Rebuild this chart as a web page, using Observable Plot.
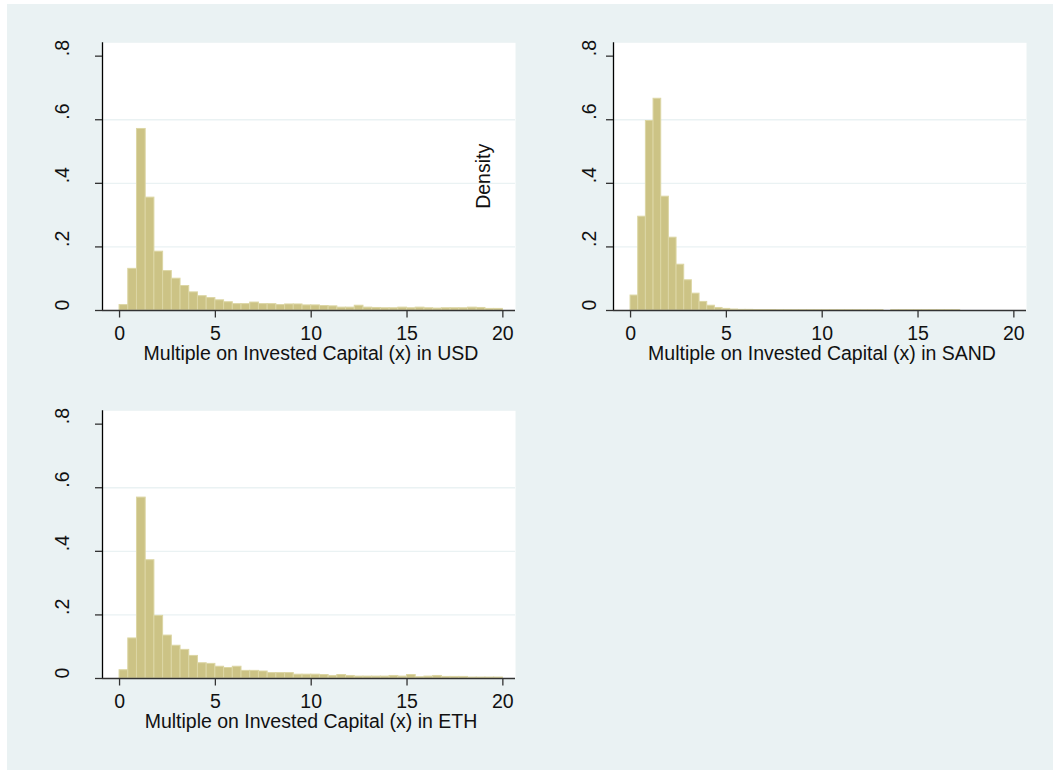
<!DOCTYPE html>
<html>
<head>
<meta charset="utf-8">
<script src="https://cdn.jsdelivr.net/npm/d3@7"></script>
<script src="https://cdn.jsdelivr.net/npm/@observablehq/plot@0.6"></script>
<style>
  html, body { margin: 0; padding: 0; background: #ffffff; }
  #page { position: relative; width: 1053px; height: 770px; background: #ffffff; overflow: hidden; font-family: "Liberation Sans", Arial, sans-serif; }
  #bg { position: absolute; left: 7px; top: 4px; right: 0; bottom: 0; background: #EAF2F3; }
  .panel { position: absolute; }
  .panel svg { overflow: visible; background: transparent; }
</style>
</head>
<body>
<div id="page">
  <div id="bg"></div>
  <div class="panel" id="p1" style="left:0px; top:0px;"></div>
  <div class="panel" id="p2" style="left:511px; top:0px;"></div>
  <div class="panel" id="p3" style="left:0px; top:367.7px;"></div>
</div>
<script>
// ---- Data (densities) ----
// USD: 44 bins spanning 0..20
const usdBinWidth = 20 / 44;
const usdDensity = [0.017, 0.131, 0.571, 0.355, 0.185, 0.124, 0.100, 0.077, 0.057, 0.045,
  0.039, 0.032, 0.026, 0.020, 0.020, 0.025, 0.020, 0.020, 0.017, 0.019,
  0.019, 0.016, 0.016, 0.014, 0.013, 0.009, 0.009, 0.015, 0.009, 0.008,
  0.007, 0.007, 0.009, 0.007, 0.009, 0.007, 0.006, 0.007, 0.007, 0.007,
  0.009, 0.008, 0.005, 0.005];

// SAND: 43 bins of width 0.4 spanning 0..17.2
const sandBinWidth = 0.4;
const sandDensity = [0.047, 0.295, 0.596, 0.666, 0.358, 0.229, 0.144, 0.095, 0.053, 0.027,
  0.015, 0.008, 0.005, 0.003, 0.002, 0.002, 0.0015, 0.0015, 0.0015, 0.001,
  0.001, 0.001, 0.001, 0.001, 0.001, 0.001, 0.001, 0.001, 0.001, 0.001,
  0.001, 0.001, 0.001, 0, 0.001, 0.001, 0.001, 0.001, 0.001, 0.001,
  0.001, 0.001, 0.001];

// ETH: 44 bins spanning 0..20
const ethBinWidth = 20 / 44;
const ethDensity = [0.026, 0.126, 0.569, 0.372, 0.197, 0.135, 0.103, 0.090, 0.071, 0.048,
  0.046, 0.037, 0.033, 0.037, 0.024, 0.024, 0.022, 0.017, 0.017, 0.017,
  0.012, 0.012, 0.012, 0.011, 0.008, 0.011, 0.008, 0.006, 0.006, 0.006,
  0.006, 0.008, 0.006, 0.011, 0.004, 0.006, 0.008, 0.005, 0.005, 0.005,
  0.003, 0.003, 0.003, 0.003];

const xTicks = [0, 5, 10, 15, 20];
const yTicks = [0, 0.2, 0.4, 0.6, 0.8];
const yTickLabels = ["0", ".2", ".4", ".6", ".8"];
const gridValues = [0.2, 0.4, 0.6];
const titles = [
  "Multiple on Invested Capital (x) in USD",
  "Multiple on Invested Capital (x) in SAND",
  "Multiple on Invested Capital (x) in ETH"
];
const yAxisTitle = "Density";

// ---- Styling ----
const barFill = "#CCC385";
const barStroke = "#DCD6A4";
const gridColor = "#EAF2F3";
const xDomain = [-0.89, 20.66];
const yDomain = [0, 0.842];

function bins(values, width) {
  return values.map((v, i) => ({x1: i * width, x2: (i + 1) * width, y: v}));
}

function panel(values, width, title, labelDx, extra = []) {
  return Plot.plot({
    width: 530,
    height: 380,
    marginLeft: 102,
    marginRight: 15,
    marginTop: 42.3,
    marginBottom: 70,
    x: {domain: xDomain, axis: null},
    y: {domain: yDomain, axis: null},
    style: {fontFamily: "'Liberation Sans', Arial, sans-serif", fontSize: "19.5px", color: "#111", background: "transparent", overflow: "visible"},
    marks: [
      Plot.frame({fill: "white", stroke: "none"}),
      Plot.ruleY(gridValues, {stroke: gridColor, strokeWidth: 1.4}),
      Plot.rectY(bins(values, width), {x1: "x1", x2: "x2", y: "y", fill: barFill, stroke: barStroke, strokeWidth: 1}),
      Plot.ruleX([xDomain[0]], {stroke: "#000", strokeWidth: 1.3}),
      Plot.ruleY([0], {stroke: "#333", strokeWidth: 1.3}),
      Plot.axisX({ticks: xTicks, tickSize: 7.5, tickPadding: 8, label: null, stroke: "#333", strokeWidth: 1.3, fontSize: 19.5}),
      Plot.axisY({ticks: yTicks, tickSize: 7, tickFormat: () => "", label: null, stroke: "#333", strokeWidth: 1.3}),
      Plot.text(yTicks, {y: d => d, text: (d, i) => yTickLabels[i], frameAnchor: "left", rotate: -90, dx: labelDx, fontSize: 19.5}),
      Plot.text([title], {text: d => d, frameAnchor: "bottom", dy: 49.5, dx: 2, fontSize: 19.5}),
      ...extra
    ]
  });
}

document.getElementById("p1").appendChild(
  panel(usdDensity, usdBinWidth, titles[0], -39.5, [
    Plot.text([yAxisTitle], {text: d => d, x: 19.0, y: 0.422, rotate: -90, fontSize: 19.5})
  ])
);
document.getElementById("p2").appendChild(panel(sandDensity, sandBinWidth, titles[1], -23.3));
document.getElementById("p3").appendChild(panel(ethDensity, ethBinWidth, titles[2], -39.5));
</script>
</body>
</html>
